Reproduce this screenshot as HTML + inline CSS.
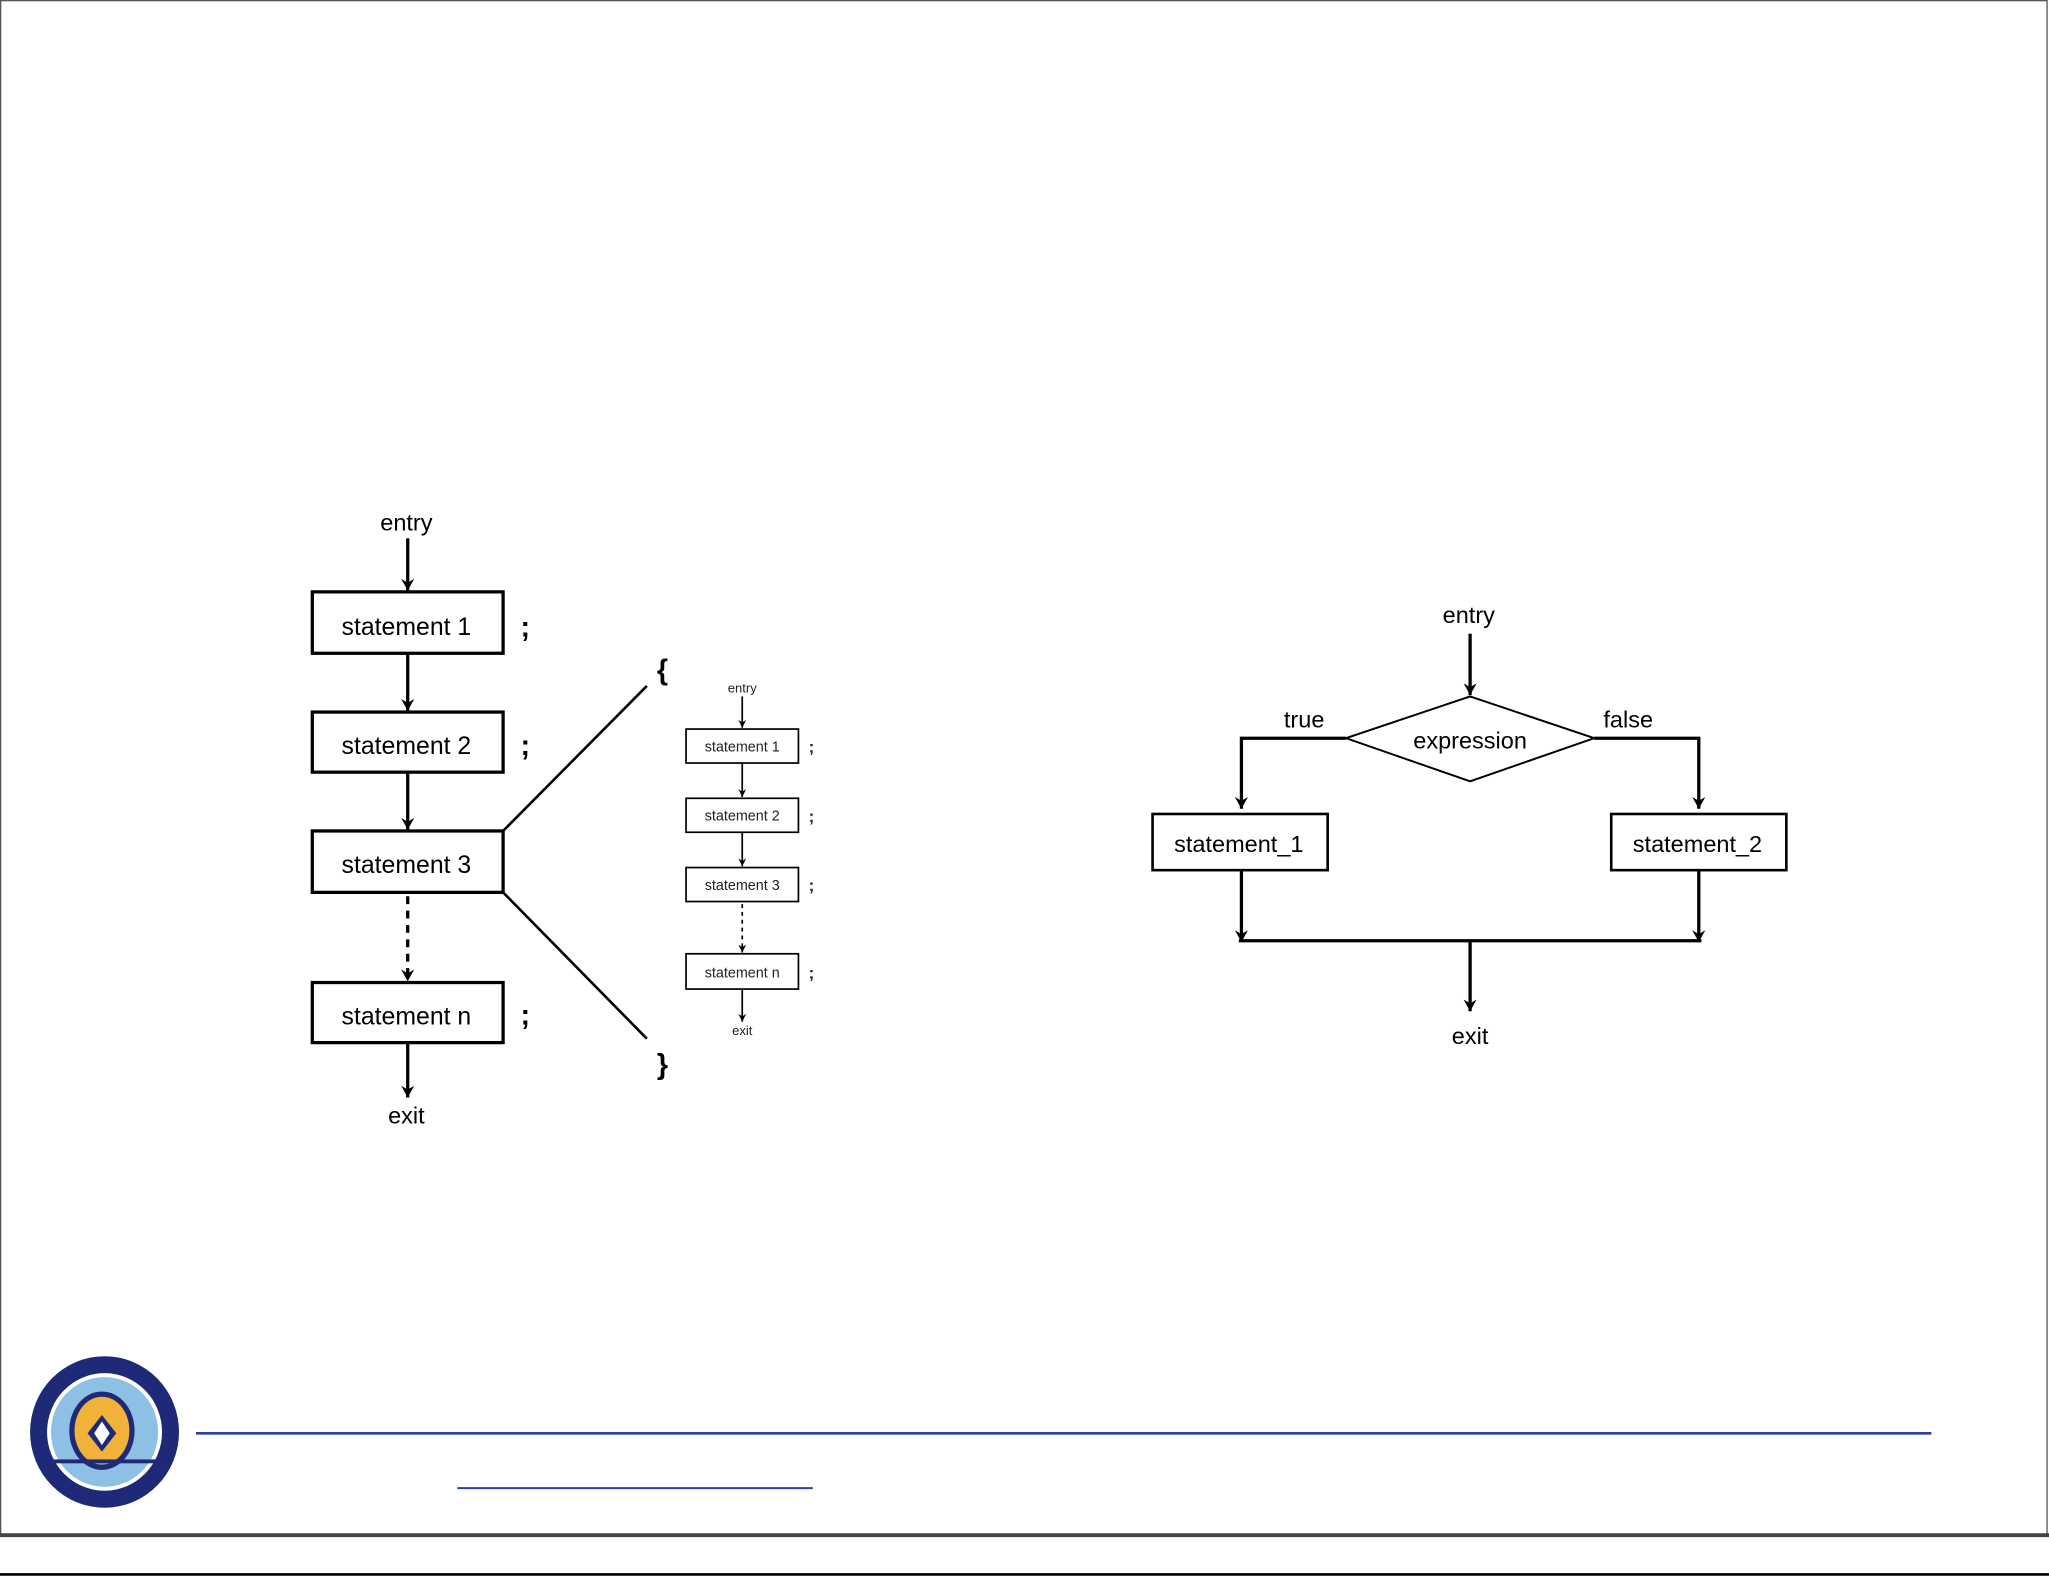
<!DOCTYPE html>
<html><head><meta charset="utf-8"><style>html,body{margin:0;padding:0;background:#fff}svg{display:block}</style></head><body>
<svg width="2049" height="1577" viewBox="0 0 1568 1207" preserveAspectRatio="none" xmlns="http://www.w3.org/2000/svg" font-family="Liberation Sans, sans-serif">
<defs><marker id="a" markerWidth="10" markerHeight="10" refX="9" refY="5" orient="auto" markerUnits="userSpaceOnUse"><path d="M0,0 L9,5 L0,10 L3,5 Z" fill="#000"/></marker>
<marker id="s" markerWidth="6" markerHeight="6" refX="6" refY="3" orient="auto" markerUnits="userSpaceOnUse"><path d="M0,0 L6,3 L0,6 L2,3 Z" fill="#000"/></marker></defs>
<rect x="0.5" y="0.5" width="1566" height="1175" fill="none" stroke="#555" stroke-width="1"/>
<line x1="0" y1="1175" x2="1568" y2="1175" stroke="#444" stroke-width="3"/>
<line x1="0" y1="1205" x2="1568" y2="1205" stroke="#000" stroke-width="2"/>
<g stroke="#000" stroke-width="2.5" fill="none">
<line x1="312" y1="412" x2="312" y2="452" marker-end="url(#a)"/>
<rect x="239" y="453" width="146" height="47" fill="#fff"/>
<line x1="312" y1="500" x2="312" y2="544" marker-end="url(#a)"/>
<rect x="239" y="545" width="146" height="46"/>
<line x1="312" y1="591" x2="312" y2="635" marker-end="url(#a)"/>
<rect x="239" y="636" width="146" height="47"/>
<line x1="312" y1="686" x2="312" y2="751" stroke-dasharray="6,5" marker-end="url(#a)"/>
<rect x="239" y="752" width="146" height="46"/>
<line x1="312" y1="798" x2="312" y2="840" marker-end="url(#a)"/>
<line x1="385" y1="636" x2="495" y2="525" stroke-width="2"/>
<line x1="385" y1="683" x2="495" y2="795" stroke-width="2"/>
</g>
<g font-size="19" text-anchor="middle" fill="#000">
<text x="311" y="406" font-size="18">entry</text>
<text x="311" y="486">statement 1</text>
<text x="311" y="577">statement 2</text>
<text x="311" y="668">statement 3</text>
<text x="311" y="784">statement n</text>
<text x="311" y="860" font-size="18">exit</text>
<g font-weight="bold" font-size="22"><text x="402" y="487">;</text><text x="402" y="578">;</text><text x="402" y="784">;</text>
<text x="507" y="520">{</text><text x="507" y="822">}</text></g>
</g>
<g stroke="#000" stroke-width="1.3" fill="none">
<line x1="568" y1="533" x2="568" y2="557" marker-end="url(#s)"/>
<rect x="525" y="558" width="86" height="26"/>
<line x1="568" y1="584" x2="568" y2="610" marker-end="url(#s)"/>
<rect x="525" y="611" width="86" height="26"/>
<line x1="568" y1="637" x2="568" y2="663" marker-end="url(#s)"/>
<rect x="525" y="664" width="86" height="26"/>
<line x1="568" y1="692" x2="568" y2="729" stroke-dasharray="3,3" marker-end="url(#s)"/>
<rect x="525" y="730" width="86" height="27"/>
<line x1="568" y1="757" x2="568" y2="782" marker-end="url(#s)"/>
</g>
<g font-size="11" text-anchor="middle" fill="#222">
<text x="568" y="530" font-size="10">entry</text>
<text x="568" y="575">statement 1</text>
<text x="568" y="628">statement 2</text>
<text x="568" y="681">statement 3</text>
<text x="568" y="748">statement n</text>
<text x="568" y="792" font-size="10">exit</text>
<g font-weight="bold" font-size="13"><text x="621" y="576">;</text><text x="621" y="629">;</text><text x="621" y="682">;</text><text x="621" y="749">;</text></g>
</g>
<g stroke="#000" stroke-width="2.5" fill="none">
<line x1="1125" y1="485" x2="1125" y2="532" marker-end="url(#a)"/>
<polygon points="1125,533 1220,565 1125,598 1030,565" stroke-width="1.5"/>
<polyline points="1030,565 950,565 950,619" marker-end="url(#a)"/>
<polyline points="1220,565 1300,565 1300,619" marker-end="url(#a)"/>
<rect x="882" y="623" width="134" height="43" stroke-width="2"/>
<rect x="1233" y="623" width="134" height="43" stroke-width="2"/>
<line x1="950" y1="666" x2="950" y2="721" marker-end="url(#a)"/>
<line x1="1300" y1="666" x2="1300" y2="721" marker-end="url(#a)"/>
<line x1="948" y1="720" x2="1302" y2="720"/>
<line x1="1125" y1="720" x2="1125" y2="774" marker-end="url(#a)"/>
</g>
<g font-size="18" text-anchor="middle" fill="#000">
<text x="1124" y="477">entry</text>
<text x="1125" y="573">expression</text>
<text x="998" y="557">true</text>
<text x="1246" y="557">false</text>
<text x="948" y="652">statement_1</text>
<text x="1299" y="652">statement_2</text>
<text x="1125" y="799">exit</text>
</g>
<line x1="150" y1="1097" x2="1478" y2="1097" stroke="#2a3f9e" stroke-width="2"/>
<line x1="350" y1="1139" x2="622" y2="1139" stroke="#2a3f9e" stroke-width="1.5"/>
<ellipse cx="80" cy="1096" rx="57" ry="58" fill="#1e2a78"/>
<ellipse cx="80" cy="1096" rx="44" ry="45" fill="#fff"/>
<ellipse cx="80" cy="1096" rx="41" ry="42" fill="#8ec0e6"/>
<ellipse cx="78" cy="1095" rx="25" ry="30" fill="#1e2a78"/>
<ellipse cx="78" cy="1095" rx="21" ry="26" fill="#f1b23a"/>
<polygon points="78,1083 89,1097 78,1111 67,1097" fill="#1e2a78"/>
<polygon points="78,1088 84,1097 78,1106 72,1097" fill="#fff"/>
<rect x="40" y="1117" width="80" height="3" fill="#1e2a78"/>
</svg>
</body></html>
